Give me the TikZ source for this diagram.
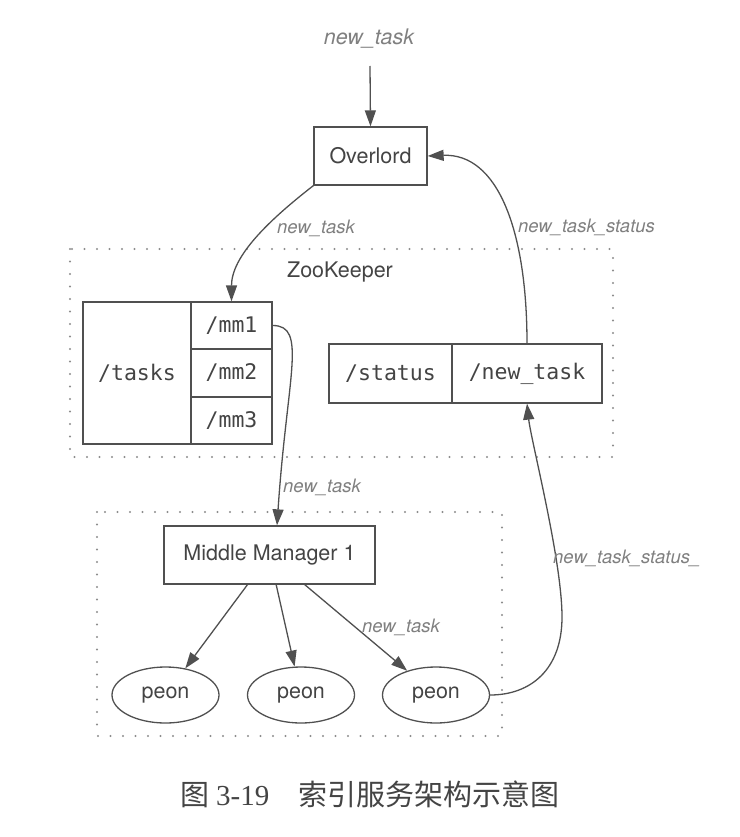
\documentclass[tikz,border=0pt]{standalone}
\usepackage{fontspec}
\setsansfont{TeX Gyre Heros}
\setmonofont{DejaVu Sans Mono}
\newfontfamily\cjkfont{Noto Sans CJK SC}
\newfontfamily\capserif{Liberation Serif}
\usetikzlibrary{arrows.meta}
\usetikzlibrary{shapes.geometric}
\definecolor{linegray}{HTML}{505050}
\definecolor{textgray}{HTML}{444444}
\definecolor{labelgray}{HTML}{808080}
\definecolor{dotgray}{HTML}{8C8C8C}
\tikzstyle{box}=[draw=linegray,line width=1.3pt,rectangle,inner sep=0pt,text=textgray,font=\sffamily\fontsize{21.5}{24}\selectfont]
\tikzstyle{znode}=[box,font=\ttfamily\fontsize{21.5}{24}\selectfont]
\tikzstyle{peon}=[box,ellipse,minimum width=107pt,minimum height=56pt]
\tikzstyle{elabel}=[text=labelgray,inner sep=0pt,font=\sffamily\itshape\fontsize{18.5}{20}\selectfont]
\tikzstyle{flow}=[draw=linegray,line width=1.3pt,-{Triangle[length=16pt,width=11pt]}]
\tikzstyle{group}=[draw=dotgray,line width=2.4pt,line cap=round,dash pattern=on 0pt off 12.5pt]

\begin{document}
\begin{tikzpicture}[x=1pt,y=-1pt]  % indexing service layout
\useasboundingbox (0,0) rectangle (739,837);

\draw[group] (70,249) rectangle (613,457);
\draw[group] (97,512) rectangle (502,736);
\node[text=textgray,font=\sffamily\fontsize{21.5}{24}\selectfont] (zk) at (340,272) {ZooKeeper};

\node[elabel,font=\sffamily\itshape\fontsize{21.5}{24}\selectfont] (input) at (369,39) {new\_task};
\coordinate (entry) at (370,66);
\node[box,minimum width=113pt,minimum height=58pt] (ov) at (370.5,156) {Overlord};

\node[znode,minimum width=108pt,minimum height=142pt] (tasks) at (137,373) {/tasks};
\node[znode,minimum width=81pt,minimum height=47pt] (mm1) at (231.5,325.5) {/mm1};
\node[znode,minimum width=81pt,minimum height=48pt] (mm2) at (231.5,373) {/mm2};
\node[znode,minimum width=81pt,minimum height=47pt] (mm3) at (231.5,420.5) {/mm3};

\node[znode,minimum width=123pt,minimum height=59pt] (status) at (390.5,373.5) {/status};
\node[znode,minimum width=150pt,minimum height=59pt] (nt) at (527,373.5) {/new\_task};

\node[box,minimum width=211pt,minimum height=58pt] (mm) at (269.5,555) {Middle Manager 1};
\node[peon] (p1) at (165.5,695) {peon};
\node[peon] (p2) at (301,695) {peon};
\node[peon] (p3) at (436,695) {peon};

\draw[flow] (entry) -- (ov.north);
\draw[flow] (ov.south west) .. controls +(-45,35) and +(0,-45) .. (mm1.north);
\node[elabel] (l1) at (316,228) {new\_task};

\draw[flow] (nt.north) .. controls +(0,-113) and +(70,-3) .. (ov.east);
\node[elabel] (l2) at (586.5,227) {new\_task\_status};

\draw[flow] (mm1.east) .. controls +(35,0) and +(10,-150) .. ([xshift=7.5pt]mm.north);
\node[elabel,anchor=west] (l3) at (283,487) {new\_task};

\draw[flow] (mm) -- (p1);
\draw[flow] (mm) -- (p2);
\draw[flow] (mm) -- (p3);
\node[elabel] (l4) at (401,627) {new\_task};

\draw[flow] (p3.east) .. controls +(40,0) and +(0,53) .. (562,617)
      .. controls +(0,-57) and +(4,37) .. (nt.south);
\node[elabel,anchor=west] (l5) at (553,558) {new\_task\_status\_};

\node[text=textgray,font=\cjkfont\fontsize{29}{32}\selectfont] (cap) at (370,794)
      {图 {\capserif 3-19}\hspace{1em}索引服务架构示意图};
\end{tikzpicture}
\end{document}
